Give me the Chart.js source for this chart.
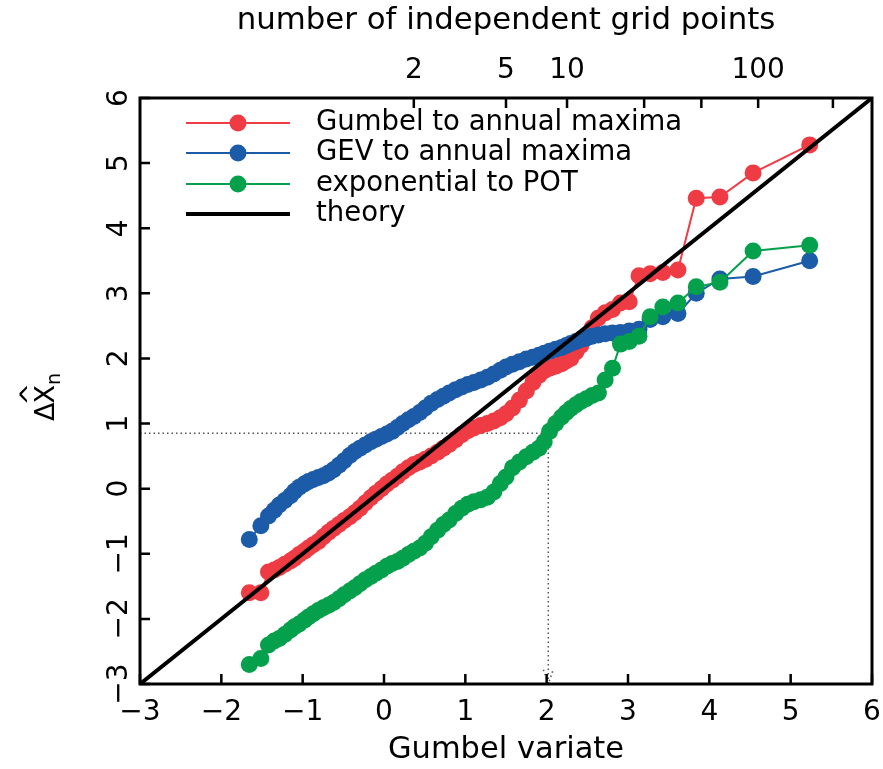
<!DOCTYPE html>
<html>
<head>
<meta charset="utf-8">
<script src="https://cdn.jsdelivr.net/npm/chart.js@4.4.1/dist/chart.umd.min.js"></script>
<style>
  html, body { margin: 0; padding: 0; background: #fff; }
  canvas { display: block; }
</style>
</head>
<body>
<canvas id="qqPlot" width="883" height="769"></canvas>
<script>
// Gumbel reduced variates of the plotting positions (shared by all fits)
const gumbelX = [
  -1.656, -1.514, -1.420, -1.350, -1.288, -1.220, -1.150, -1.100, -1.043, -0.980,
  -0.928, -0.870, -0.807, -0.745, -0.682, -0.620, -0.554, -0.490, -0.421, -0.360,
  -0.296, -0.230, -0.162, -0.100, -0.031, 0.035, 0.099, 0.165, 0.231, 0.300,
  0.367, 0.440, 0.508, 0.580, 0.658, 0.730, 0.801, 0.880, 0.956, 1.030,
  1.105, 1.190, 1.271, 1.350, 1.430, 1.500, 1.580, 1.665, 1.750, 1.830,
  1.905, 1.970, 2.036, 2.110, 2.185, 2.240, 2.296, 2.360, 2.420, 2.487,
  2.559, 2.636, 2.719, 2.809, 2.907, 3.015, 3.135, 3.272, 3.428, 3.614,
  3.839, 4.130, 4.538, 5.234
];

// sorted estimates, one per plotting position
const gumbelFit = [
  -1.60, -1.60, -1.28, -1.25, -1.21, -1.16, -1.11, -1.07, -1.01, -0.96,
  -0.91, -0.86, -0.81, -0.74, -0.67, -0.61, -0.55, -0.49, -0.43, -0.37,
  -0.30, -0.22, -0.14, -0.07, 0.00, 0.07, 0.13, 0.19, 0.26, 0.32,
  0.37, 0.41, 0.45, 0.50, 0.56, 0.62, 0.68, 0.75, 0.83, 0.89,
  0.93, 0.97, 1.00, 1.04, 1.09, 1.15, 1.24, 1.36, 1.50, 1.63,
  1.74, 1.81, 1.85, 1.88, 1.92, 1.96, 2.00, 2.10, 2.20, 2.33,
  2.47, 2.62, 2.70, 2.75, 2.85, 2.87, 3.27, 3.30, 3.32, 3.36,
  4.46, 4.48, 4.85, 5.28
];

const gevFit = [
  -0.78, -0.57, -0.42, -0.33, -0.25, -0.18, -0.11, -0.04, 0.02, 0.07,
  0.11, 0.14, 0.17, 0.20, 0.24, 0.29, 0.36, 0.43, 0.51, 0.57,
  0.62, 0.67, 0.72, 0.76, 0.80, 0.84, 0.88, 0.94, 1.00, 1.06,
  1.11, 1.17, 1.24, 1.31, 1.37, 1.42, 1.47, 1.52, 1.56, 1.60,
  1.63, 1.67, 1.71, 1.76, 1.82, 1.87, 1.91, 1.95, 1.99, 2.02,
  2.05, 2.08, 2.11, 2.14, 2.17, 2.20, 2.23, 2.26, 2.29, 2.31,
  2.34, 2.36, 2.38, 2.39, 2.40, 2.42, 2.45, 2.60, 2.64, 2.69,
  3.00, 3.22, 3.26, 3.50
];

const potFit = [
  -2.70, -2.61, -2.40, -2.34, -2.30, -2.24, -2.17, -2.12, -2.08, -2.02,
  -1.97, -1.92, -1.87, -1.83, -1.79, -1.75, -1.69, -1.63, -1.57, -1.52,
  -1.46, -1.40, -1.35, -1.30, -1.25, -1.19, -1.15, -1.12, -1.07, -1.01,
  -0.96, -0.91, -0.84, -0.74, -0.64, -0.55, -0.48, -0.38, -0.30, -0.24,
  -0.20, -0.17, -0.13, -0.05, 0.08, 0.18, 0.32, 0.41, 0.49, 0.56,
  0.62, 0.72, 0.88, 1.00, 1.10, 1.17, 1.23, 1.29, 1.34, 1.38,
  1.43, 1.47, 1.67, 1.85, 2.22, 2.26, 2.34, 2.64, 2.79, 2.85,
  3.10, 3.17, 3.65, 3.74
];

const theoryX = [-3, 6];
const theoryY = [-3, 6];

// dotted read-off: 0.85 on the y axis -> about 2.02 on the Gumbel axis
const guideX = [-3, 2.02, 2.02];
const guideY = [0.85, 0.85, -3];
const arrowX = [1.96, 2.02, 2.08];
const arrowY = [-2.78, -3, -2.78];

const returnPeriods = [2, 5, 10, 25, 50, 100, 250];
const returnLabels = ["2", "5", "10", "", "", "100", ""];

const seriesNames = ["Gumbel to annual maxima", "GEV to annual maxima", "exponential to POT", "theory"];
const seriesColors = ["#ef3b44", "#1c5ba8", "#05a04c", "#000000"];

const FONT = "'DejaVu Sans', sans-serif";
Chart.defaults.font.family = FONT;
Chart.defaults.color = "#000";

const pairs = (xs, ys) => xs.map((x, i) => ({ x, y: ys[i] }));
const minusFmt = v => (v < 0 ? "\u2212" + Math.abs(v) : String(v));
const gumbelOf = T => -Math.log(-Math.log(1 - 1 / T));

function pointSeries(label, ys, color, order) {
  return {
    label,
    data: pairs(gumbelX, ys),
    borderColor: color,
    backgroundColor: color,
    borderWidth: 2,
    pointRadius: 8.5,
    pointBorderWidth: 0,
    pointBackgroundColor: color,
    tension: 0,
    order
  };
}

// horizontal axes: fixed band height, no extra side padding for end labels
const fixHeight = h => s => { s.height = h; s.paddingLeft = 0; s.paddingRight = 0; };

// box, inward ticks, legend and the y-axis label
const decorations = {
  id: "decorations",
  afterDatasetsDraw(chart) {
    const { ctx, chartArea: a, scales } = chart;
    ctx.save();
    ctx.strokeStyle = "#000";
    ctx.lineWidth = 3;
    ctx.strokeRect(a.left, a.top, a.right - a.left, a.bottom - a.top);

    const tl = 10;
    ctx.lineWidth = 2.5;
    ctx.beginPath();
    scales.x.ticks.forEach(t => {
      const px = scales.x.getPixelForValue(t.value);
      ctx.moveTo(px, a.bottom); ctx.lineTo(px, a.bottom - tl);
    });
    scales.x2.ticks.forEach(t => {
      const px = scales.x2.getPixelForValue(t.value);
      ctx.moveTo(px, a.top); ctx.lineTo(px, a.top + tl);
    });
    scales.y.ticks.forEach(t => {
      const py = scales.y.getPixelForValue(t.value);
      ctx.moveTo(a.left, py); ctx.lineTo(a.left + tl, py);
    });
    ctx.stroke();

    // legend
    const lx0 = 186, lx1 = 290, rowY = [123, 153, 184, 214];
    ctx.font = "27.5px " + FONT;
    ctx.textBaseline = "middle";
    ctx.textAlign = "left";
    seriesNames.forEach((name, i) => {
      const y = rowY[i];
      ctx.strokeStyle = seriesColors[i];
      ctx.lineWidth = i === 3 ? 4 : 2;
      ctx.beginPath(); ctx.moveTo(lx0, y); ctx.lineTo(lx1, y); ctx.stroke();
      if (i < 3) {
        ctx.fillStyle = seriesColors[i];
        ctx.beginPath(); ctx.arc((lx0 + lx1) / 2, y, 8.5, 0, Math.PI * 2); ctx.fill();
      }
      ctx.fillStyle = "#000";
      ctx.fillText(name, 316, y);
    });

    // y-axis label: delta X-hat sub n, reading upward
    ctx.translate(54, 421);
    ctx.rotate(-Math.PI / 2);
    ctx.textBaseline = "alphabetic";
    ctx.font = "27px " + FONT;
    const wD = ctx.measureText("\u0394").width;
    ctx.fillText("\u0394", 0, 0);
    const wX = ctx.measureText("X").width;
    ctx.fillText("X", wD - 1, 0);
    ctx.textAlign = "center";
    ctx.fillText("^", wD - 1 + wX / 2, -15);
    ctx.textAlign = "left";
    ctx.font = "19px " + FONT;
    ctx.fillText("n", wD + wX - 1, 6);
    ctx.restore();
  }
};

new Chart(document.getElementById("qqPlot"), {
  type: "line",
  data: {
    datasets: [
      {
        label: seriesNames[3],
        data: pairs(theoryX, theoryY),
        borderColor: seriesColors[3],
        borderWidth: 4,
        pointRadius: 0,
        order: 0
      },
      pointSeries(seriesNames[2], potFit, seriesColors[2], 1),
      pointSeries(seriesNames[1], gevFit, seriesColors[1], 2),
      pointSeries(seriesNames[0], gumbelFit, seriesColors[0], 3),
      {
        label: "guide",
        data: pairs(guideX, guideY),
        borderColor: "#555",
        borderWidth: 1.5,
        borderDash: [1.5, 3],
        pointRadius: 0,
        order: 4
      },
      {
        label: "arrow",
        data: pairs(arrowX, arrowY),
        borderColor: "#555",
        borderWidth: 1.5,
        borderDash: [1.5, 3],
        pointRadius: 0,
        order: 4
      }
    ]
  },
  options: {
    responsive: false,
    animation: false,
    events: [],
    layout: { padding: { left: 0, right: 11, top: 0, bottom: 0 } },
    plugins: { legend: { display: false }, tooltip: { enabled: false } },
    scales: {
      x: {
        type: "linear",
        position: "bottom",
        min: -3,
        max: 6,
        grid: { display: false, drawTicks: false },
        border: { display: false },
        ticks: { stepSize: 1, padding: 12, font: { size: 28 }, callback: minusFmt },
        title: { display: true, text: "Gumbel variate", font: { size: 30.5 }, padding: { top: 0, bottom: 1 } },
        afterFit: fixHeight(85)
      },
      x2: {
        type: "linear",
        position: "top",
        min: -3,
        max: 6,
        grid: { display: false, drawTicks: false },
        border: { display: false },
        afterBuildTicks: s => { s.ticks = returnPeriods.map(T => ({ value: gumbelOf(T) })); },
        ticks: { autoSkip: false, padding: 10, font: { size: 28 }, callback: (v, i) => returnLabels[i] },
        title: { display: true, text: "number of independent grid points", font: { size: 30.8 }, padding: { top: 3, bottom: 0 } },
        afterFit: fixHeight(98)
      },
      y: {
        type: "linear",
        position: "left",
        min: -3,
        max: 6,
        grid: { display: false, drawTicks: false },
        border: { display: false },
        ticks: { stepSize: 1, padding: 0, minRotation: 90, maxRotation: 90, crossAlign: "center", font: { size: 28 }, callback: minusFmt },
        afterFit: s => { s.width = 140; }
      }
    }
  },
  plugins: [decorations]
});
</script>
</body>
</html>
